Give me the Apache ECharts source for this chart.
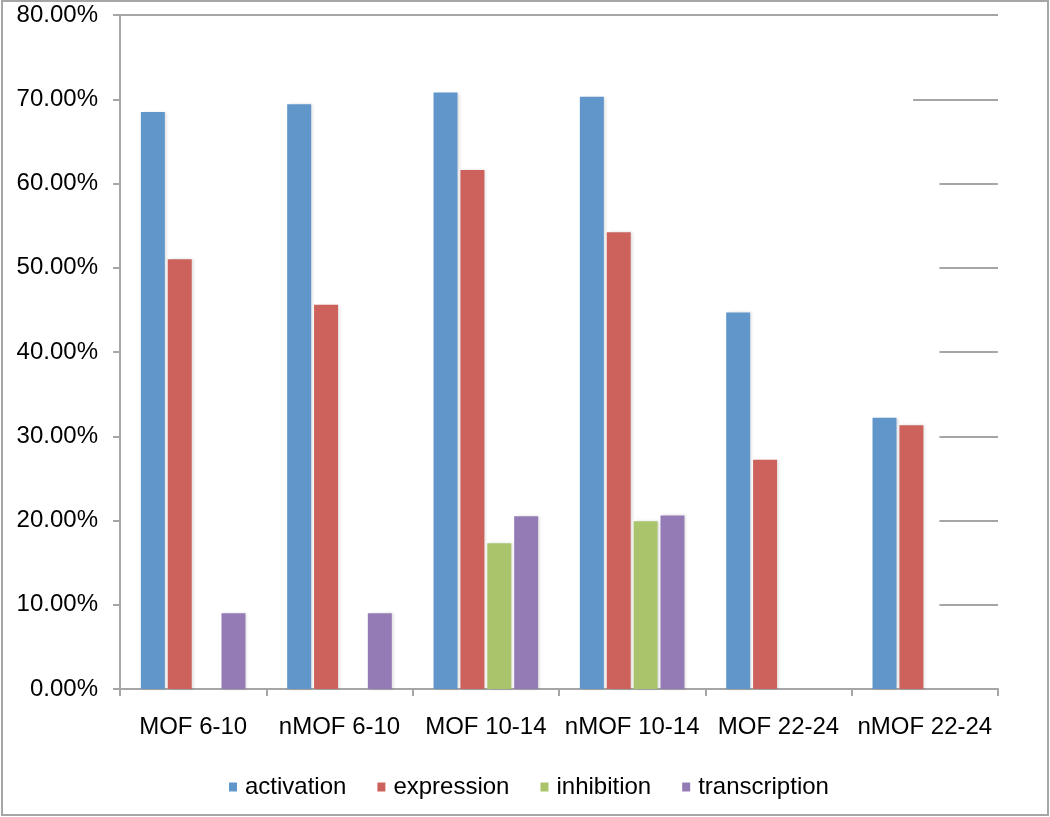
<!DOCTYPE html>
<html>
<head>
<meta charset="utf-8">
<script src="https://cdn.jsdelivr.net/npm/echarts@6/dist/echarts.min.js"></script>
<style>
html,body{margin:0;padding:0;background:#fff;}
#chart{width:1050px;height:817px;}
</style>
</head>
<body>
<div id="chart"></div>
<script>
const categories = ['MOF 6-10', 'nMOF 6-10', 'MOF 10-14', 'nMOF 10-14', 'MOF 22-24', 'nMOF 22-24'];
const activation = [68.5, 69.4, 70.8, 70.3, 44.7, 32.2];
const expression = [51.0, 45.6, 61.6, 54.2, 27.2, 31.3];
const inhibition = [null, null, 17.3, 19.9, null, null];
const transcription = [9.0, 9.0, 20.5, 20.6, null, null];
const yTicks = [0, 10, 20, 30, 40, 50, 60, 70, 80];

const colors = ['#6096C9', '#CD625C', '#A9C46A', '#957BB5'];
const seriesNames = ['activation', 'expression', 'inhibition', 'transcription'];
const seriesData = [activation, expression, inhibition, transcription];

// visible portions of the gridlines (in category units along a hidden 0..N axis)
function gridStart(v) { return v === 80 ? 0 : (v === 70 ? 5.42 : 5.6); }
const gridLines = yTicks.filter(v => v > 0).map(v => ({
  coords: [[gridStart(v), v], [categories.length, v]]
}));

const font = 'Liberation Sans, Arial, Helvetica, sans-serif';
const chart = echarts.init(document.getElementById('chart'), null, {renderer: 'canvas'});

const barSeries = seriesNames.map((n, i) => ({
  name: n,
  type: 'bar',
  data: seriesData[i],
  barWidth: 24,
  barGap: '12%',
  itemStyle: {
    color: colors[i],
    shadowColor: 'rgba(0,0,0,0.13)',
    shadowBlur: 3,
    shadowOffsetX: 2
  }
}));

chart.setOption({
  animation: false,
  color: colors,
  graphic: [{
    type: 'rect',
    shape: {x: 2, y: 1, width: 1046, height: 814},
    style: {fill: 'none', stroke: '#A6A6A6', lineWidth: 2},
    silent: true
  }],
  grid: {left: 120, right: 52, top: 15, bottom: 128},
  legend: {
    left: 224,
    top: 770,
    itemWidth: 8,
    itemHeight: 9,
    itemGap: 31,
    icon: 'rect',
    textStyle: {fontFamily: font, fontSize: 24, color: '#000', padding: [0, 0, 0, 3]},
    data: seriesNames
  },
  xAxis: [{
    type: 'category',
    data: categories,
    axisLine: {lineStyle: {color: '#A6A6A6', width: 2}},
    axisTick: {show: true, length: 7, lineStyle: {color: '#A6A6A6', width: 2}},
    axisLabel: {fontFamily: font, fontSize: 24, color: '#000', margin: 26, interval: 0},
    splitLine: {show: false}
  }, {
    type: 'value',
    min: 0,
    max: categories.length,
    show: false
  }],
  yAxis: {
    type: 'value',
    min: 0,
    max: 80,
    interval: 10,
    axisLine: {show: true, lineStyle: {color: '#A6A6A6', width: 2}},
    axisTick: {show: true, length: 7, lineStyle: {color: '#A6A6A6', width: 2}},
    axisLabel: {fontFamily: font, fontSize: 24, color: '#000', margin: 22,
      formatter: v => v.toFixed(2) + '%'},
    splitLine: {show: false}
  },
  series: [{
    type: 'lines',
    coordinateSystem: 'cartesian2d',
    xAxisIndex: 1,
    yAxisIndex: 0,
    silent: true,
    z: 0,
    lineStyle: {color: '#A6A6A6', width: 2, opacity: 1},
    data: gridLines
  }].concat(barSeries)
});
</script>
</body>
</html>
